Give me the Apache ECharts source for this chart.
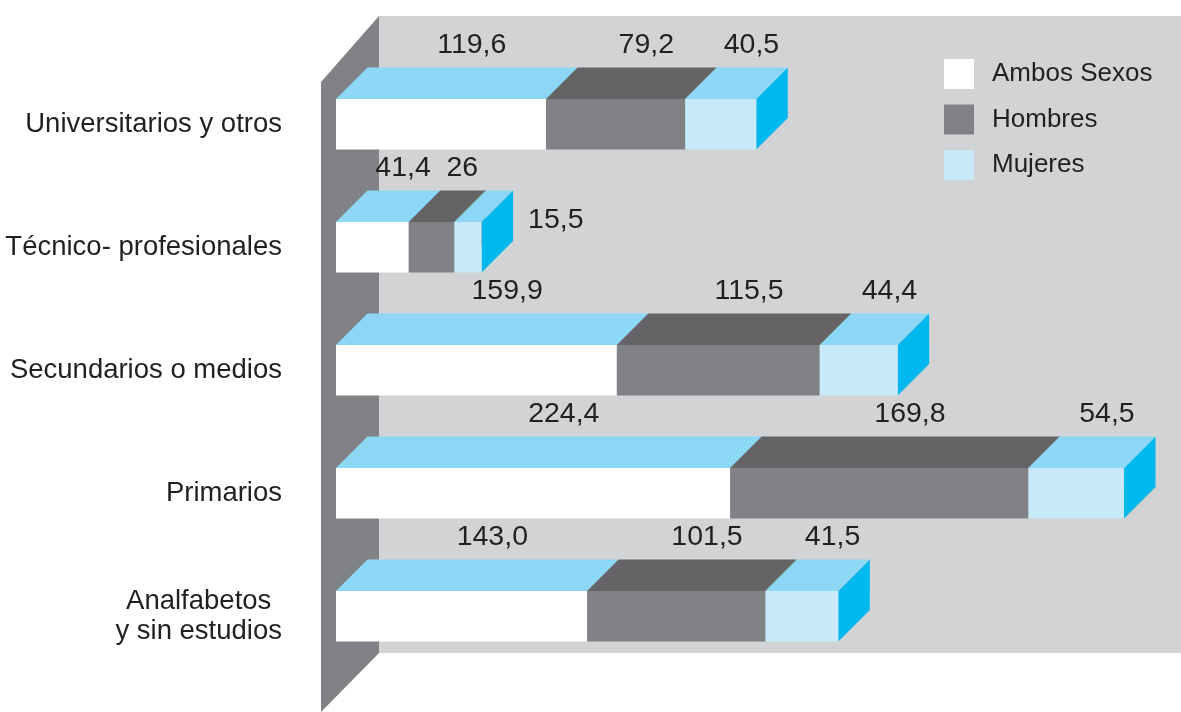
<!DOCTYPE html>
<html>
<head>
<meta charset="utf-8">
<script src="https://cdn.jsdelivr.net/npm/echarts@6/dist/echarts.min.js"></script>
<style>
html,body{margin:0;padding:0;background:#ffffff;}
#chart{width:1181px;height:712px;}
</style>
</head>
<body>
<div id="chart"></div>
<script>
// ---- data ----
var categories = ['Universitarios y otros', 'Técnico- profesionales', 'Secundarios o medios', 'Primarios', 'Analfabetos\ny sin estudios'];
var seriesNames = ['Ambos Sexos', 'Hombres', 'Mujeres'];
var ambos = [119.6, 41.4, 159.9, 224.4, 143.0];
var hombres = [79.2, 26, 115.5, 169.8, 101.5];
var mujeres = [40.5, 15.5, 44.4, 54.5, 41.5];
var ambosLabels = ['119,6', '41,4', '159,9', '224,4', '143,0'];
var hombresLabels = ['79,2', '26', '115,5', '169,8', '101,5'];
var mujeresLabels = ['40,5', '15,5', '44,4', '54,5', '41,5'];

// ---- styles ----
var FONT = '"Liberation Sans", Arial, sans-serif';
var TXT = '#231f20';
var DEPTH = 31.5;
var faces = [
  {front: '#ffffff', top: '#8bd7f5', side: '#8bd7f5'},
  {front: '#808285', top: '#646466', side: '#646466'},
  {front: '#c7e9f8', top: '#8bd7f5', side: '#00b8ee'}
];

var valueSets = [ambos, hombres, mujeres];
var labelSets = [ambosLabels, hombresLabels, mujeresLabels];

// build start/end for consecutive segments
var starts = categories.map(function(){ return 0; });
var seriesData = valueSets.map(function(vals, k){
  return vals.map(function(v, i){
    var s = starts[i];
    starts[i] = s + v;
    return [s, s + v, i, labelSets[k][i]];
  });
});

function makeRender(k){
  var col = faces[k];
  var isLast = (k === valueSets.length - 1);
  return function(params, api){
    var s = api.value(0), e = api.value(1), c = api.value(2);
    var p0 = api.coord([s, c]);
    var p1 = api.coord([e, c]);
    var h = api.size([0, 1])[1] * 0.41;
    var top = p0[1] - h / 2, bottom = p0[1] + h / 2;
    var x0 = p0[0], x1 = p1[0], d = DEPTH;
    var lbl = seriesData[k][params.dataIndex][3];
    var children = [
      {type: 'polygon', shape: {points: [[x1, top], [x1 + d, top - d], [x1 + d, bottom - d], [x1, bottom]]}, style: {fill: col.side}},
      {type: 'polygon', shape: {points: [[x0, top], [x0 + d, top - d], [x1 + d, top - d], [x1, top]]}, style: {fill: col.top}},
      {type: 'rect', shape: {x: x0, y: top, width: x1 - x0, height: h}, style: {fill: col.front}}
    ];
    var tx, ty, align;
    if (isLast && (x1 - x0) < 40) {
      tx = x1 + d + 15; ty = top - d + 30; align = 'left';
    } else {
      tx = (x0 + x1) / 2 + d / 2 + 15; ty = top - d - 22; align = 'center';
    }
    children.push({type: 'text', style: {text: lbl, x: tx, y: ty, align: align, verticalAlign: 'middle', font: '28.5px ' + FONT, fill: TXT}});
    return {type: 'group', children: children};
  };
}

var chart = echarts.init(document.getElementById('chart'), null, {renderer: 'canvas'});
var option = {
  animation: false,
  backgroundColor: '#ffffff',
  grid: {left: 336, top: 62.8, width: 843, height: 615, containLabel: false, outerBoundsMode: 'none'},
  xAxis: {type: 'value', min: 0, max: 480, show: false},
  yAxis: {
    type: 'category', data: categories, inverse: true,
    axisLine: {show: false}, axisTick: {show: false}, splitLine: {show: false},
    axisLabel: {
      margin: 54, fontSize: 27.5, color: TXT, fontFamily: FONT,
      formatter: function(v){
        return v.split('\n').map(function(t){ return '{a|' + t + '}'; }).join('\n');
      },
      rich: {a: {fontSize: 27.5, color: TXT, fontFamily: FONT, align: 'center', lineHeight: 30}}
    }
  },
  legend: {
    orient: 'vertical', left: 944, top: 59, padding: 0,
    itemWidth: 30, itemHeight: 30, itemGap: 15.5, icon: 'rect',
    data: seriesNames,
    textStyle: {fontSize: 26, color: TXT, fontFamily: FONT, padding: [0, 0, 0, 13]}
  },
  graphic: [
    {type: 'rect', z: 0, shape: {x: 379, y: 16, width: 802, height: 637}, style: {fill: '#d1d3d4'}, silent: true},
    {type: 'polygon', z: 0, shape: {points: [[321, 82], [379, 16], [379, 653], [321, 712]]}, style: {fill: '#808285'}, silent: true}
  ],
  series: valueSets.map(function(vals, k){
    return {
      type: 'custom', name: seriesNames[k],
      itemStyle: {color: faces[k].front},
      encode: {x: [0, 1], y: 2},
      data: seriesData[k],
      renderItem: makeRender(k)
    };
  })
};
chart.setOption(option);
</script>
</body>
</html>
